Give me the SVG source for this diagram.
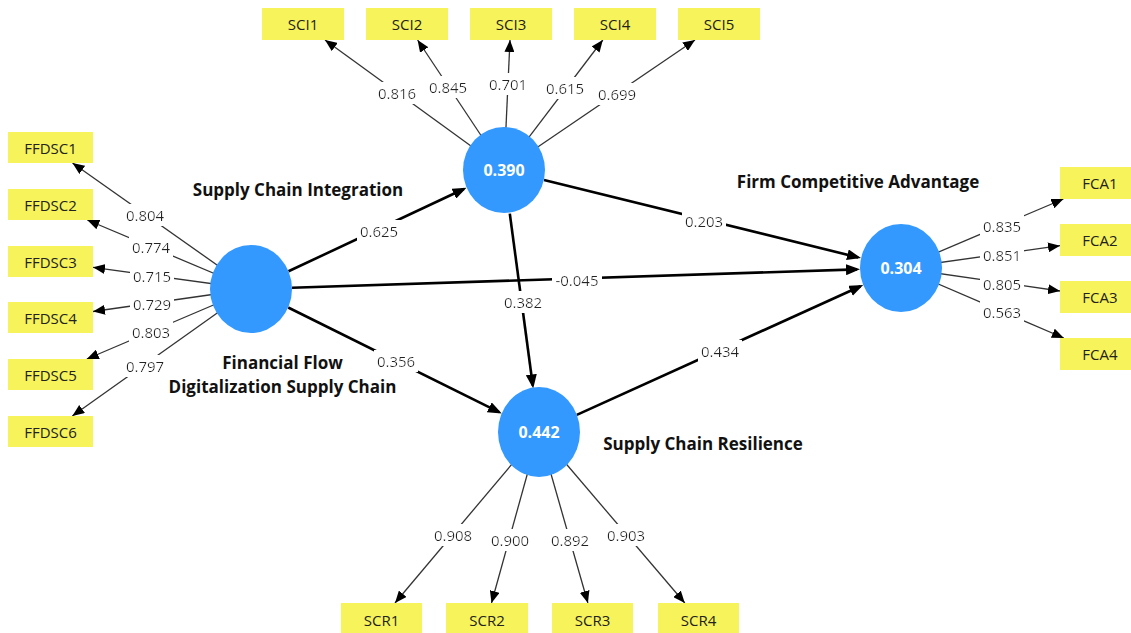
<svg xmlns="http://www.w3.org/2000/svg" width="1131" height="633" viewBox="0 0 1131 633">
  <style>
    .ind rect { fill: #F7F35A; }
    .ind text { font-family: "Open Sans", "Liberation Sans", sans-serif; font-size: 15px; fill: #222; text-anchor: middle; }
    .lat ellipse { fill: #3399FF; }
    .lat text.val { font-family: "Open Sans", "Liberation Sans", sans-serif; font-size: 16px; font-weight: bold; fill: #fff; text-anchor: middle; }
    .title { font-family: "Open Sans", "Liberation Sans", sans-serif; font-size: 17px; font-weight: bold; fill: #111; text-anchor: middle; }
    .outer line { stroke: #333; stroke-width: 1.3; marker-end: url(#arrO); }
    .inner line { stroke: #000; stroke-width: 2.6; marker-end: url(#arrS); }
    .coef { font-family: "Open Sans", "Liberation Sans", sans-serif; font-size: 15px; fill: #222; text-anchor: middle; filter: url(#labelBg); }
  </style>
  <defs>
    <!-- white box behind coefficient labels -->
    <filter id="labelBg" x="-0.06" y="-0.05" width="1.12" height="1.1">
      <feFlood flood-color="#fff"/>
      <feComposite in="SourceGraphic" operator="over"/>
    </filter>
    <marker id="arrO" markerUnits="userSpaceOnUse" markerWidth="12" markerHeight="10" refX="12" refY="5" orient="auto">
      <path d="M0,0 L12,5 L0,10 z" fill="#000"/>
    </marker>
    <marker id="arrS" markerUnits="userSpaceOnUse" markerWidth="14" markerHeight="11" refX="11" refY="5.5" orient="auto">
      <path d="M0,0 L14,5.5 L0,11 z" fill="#000"/>
    </marker>
  </defs>
  <rect width="1131" height="633" fill="#fff"/>

  <!-- connectors: outer loadings and structural paths -->
  <g id="connectors">
    <g class="outer">
      <!-- Supply Chain Integration -> SCI1..SCI5 -->
      <line x1="504" y1="170" x2="325" y2="40"/>
      <line x1="504" y1="170" x2="417.6" y2="40"/>
      <line x1="504" y1="170" x2="510" y2="40"/>
      <line x1="504" y1="170" x2="602.8" y2="40"/>
      <line x1="504" y1="170" x2="695" y2="40"/>
      <!-- FFDSC construct -> FFDSC1..FFDSC6 -->
      <line x1="251" y1="289" x2="72.5" y2="163"/>
      <line x1="251" y1="289" x2="87.3" y2="220"/>
      <line x1="251" y1="289" x2="93" y2="267.3"/>
      <line x1="251" y1="289" x2="93" y2="311.5"/>
      <line x1="251" y1="289" x2="86.8" y2="359"/>
      <line x1="251" y1="289" x2="72.3" y2="416"/>
      <!-- Firm Competitive Advantage -> FCA1..FCA4 -->
      <line x1="901" y1="268" x2="1063.4" y2="199"/>
      <line x1="901" y1="268" x2="1060" y2="245.7"/>
      <line x1="901" y1="268" x2="1060" y2="291"/>
      <line x1="901" y1="268" x2="1063.8" y2="338"/>
      <!-- Supply Chain Resilience -> SCR1..SCR4 -->
      <line x1="539" y1="432" x2="395" y2="603"/>
      <line x1="539" y1="432" x2="491.5" y2="603"/>
      <line x1="539" y1="432" x2="587.9" y2="603"/>
      <line x1="539" y1="432" x2="684.8" y2="603"/>
    </g>
    <g class="inner">
      <line x1="288.5" y1="271.3" x2="463.8" y2="189"/>
      <line x1="292" y1="287.7" x2="857" y2="269.4"/>
      <line x1="288.2" y1="307.5" x2="499.1" y2="412.2"/>
      <line x1="544" y1="179.9" x2="858.1" y2="257.4"/>
      <line x1="509.8" y1="213.6" x2="532.8" y2="385.5"/>
      <line x1="576.8" y1="414.9" x2="860.5" y2="286.3"/>
    </g>
    <!-- loading values -->
    <text class="coef" x="397" y="99">0.816</text>
    <text class="coef" x="448" y="93">0.845</text>
    <text class="coef" x="508" y="90">0.701</text>
    <text class="coef" x="565" y="94">0.615</text>
    <text class="coef" x="617" y="100">0.699</text>
    <text class="coef" x="145" y="221">0.804</text>
    <text class="coef" x="151" y="253">0.774</text>
    <text class="coef" x="152" y="282">0.715</text>
    <text class="coef" x="152" y="310">0.729</text>
    <text class="coef" x="151" y="338">0.803</text>
    <text class="coef" x="145" y="372">0.797</text>
    <text class="coef" x="1002" y="232">0.835</text>
    <text class="coef" x="1002" y="261">0.851</text>
    <text class="coef" x="1002" y="290">0.805</text>
    <text class="coef" x="1002" y="318">0.563</text>
    <text class="coef" x="453" y="541">0.908</text>
    <text class="coef" x="510" y="546">0.900</text>
    <text class="coef" x="570" y="546">0.892</text>
    <text class="coef" x="626" y="541">0.903</text>
    <!-- path coefficients -->
    <text class="coef" x="379" y="237">0.625</text>
    <text class="coef" x="577" y="286">-0.045</text>
    <text class="coef" x="396" y="367">0.356</text>
    <text class="coef" x="704" y="227">0.203</text>
    <text class="coef" x="523" y="308">0.382</text>
    <text class="coef" x="720" y="357">0.434</text>
  </g>

  <!-- latent constructs -->
  <g id="ffdsc" class="lat">
    <ellipse cx="251" cy="289" rx="41" ry="44"/>
    <text class="title" x="282.5" y="369">Financial Flow</text>
    <text class="title" x="282.5" y="393">Digitalization Supply Chain</text>
  </g>
  <g id="sci" class="lat">
    <ellipse cx="504" cy="170" rx="41" ry="43"/>
    <text class="val" x="504" y="175.5">0.390</text>
    <text class="title" x="298" y="196">Supply Chain Integration</text>
  </g>
  <g id="scr" class="lat">
    <ellipse cx="539" cy="432" rx="41" ry="45"/>
    <text class="val" x="539" y="437.5">0.442</text>
    <text class="title" x="703" y="450">Supply Chain Resilience</text>
  </g>
  <g id="fca" class="lat">
    <ellipse cx="901" cy="268" rx="41" ry="44"/>
    <text class="val" x="901" y="273.5">0.304</text>
    <text class="title" x="858" y="188">Firm Competitive Advantage</text>
  </g>

  <!-- indicators -->
  <g id="SCI1" class="ind"><rect x="262" y="8" width="82" height="32"/><text x="303" y="30">SCI1</text></g>
  <g id="SCI2" class="ind"><rect x="366" y="8" width="82" height="32"/><text x="407" y="30">SCI2</text></g>
  <g id="SCI3" class="ind"><rect x="470" y="8" width="82" height="32"/><text x="511" y="30">SCI3</text></g>
  <g id="SCI4" class="ind"><rect x="574" y="8" width="82" height="32"/><text x="615" y="30">SCI4</text></g>
  <g id="SCI5" class="ind"><rect x="678" y="8" width="82" height="32"/><text x="719" y="30">SCI5</text></g>

  <g id="FFDSC1" class="ind"><rect x="8" y="132" width="85" height="31"/><text x="50.5" y="153.5">FFDSC1</text></g>
  <g id="FFDSC2" class="ind"><rect x="8" y="189" width="85" height="31"/><text x="50.5" y="210.5">FFDSC2</text></g>
  <g id="FFDSC3" class="ind"><rect x="8" y="246" width="85" height="31"/><text x="50.5" y="267.5">FFDSC3</text></g>
  <g id="FFDSC4" class="ind"><rect x="8" y="302" width="85" height="31"/><text x="50.5" y="323.5">FFDSC4</text></g>
  <g id="FFDSC5" class="ind"><rect x="8" y="359" width="85" height="31"/><text x="50.5" y="380.5">FFDSC5</text></g>
  <g id="FFDSC6" class="ind"><rect x="8" y="416" width="85" height="31"/><text x="50.5" y="437.5">FFDSC6</text></g>

  <g id="FCA1" class="ind"><rect x="1060" y="167" width="82" height="32"/><text x="1100" y="189">FCA1</text></g>
  <g id="FCA2" class="ind"><rect x="1060" y="224" width="82" height="32"/><text x="1100" y="246">FCA2</text></g>
  <g id="FCA3" class="ind"><rect x="1060" y="281" width="82" height="32"/><text x="1100" y="303">FCA3</text></g>
  <g id="FCA4" class="ind"><rect x="1060" y="338" width="82" height="32"/><text x="1100" y="360">FCA4</text></g>

  <g id="SCR1" class="ind"><rect x="341" y="603" width="81" height="34"/><text x="381.5" y="626">SCR1</text></g>
  <g id="SCR2" class="ind"><rect x="446" y="603" width="82" height="34"/><text x="487" y="626">SCR2</text></g>
  <g id="SCR3" class="ind"><rect x="552" y="603" width="81" height="34"/><text x="592.5" y="626">SCR3</text></g>
  <g id="SCR4" class="ind"><rect x="658" y="603" width="81" height="34"/><text x="698.5" y="626">SCR4</text></g>
</svg>
